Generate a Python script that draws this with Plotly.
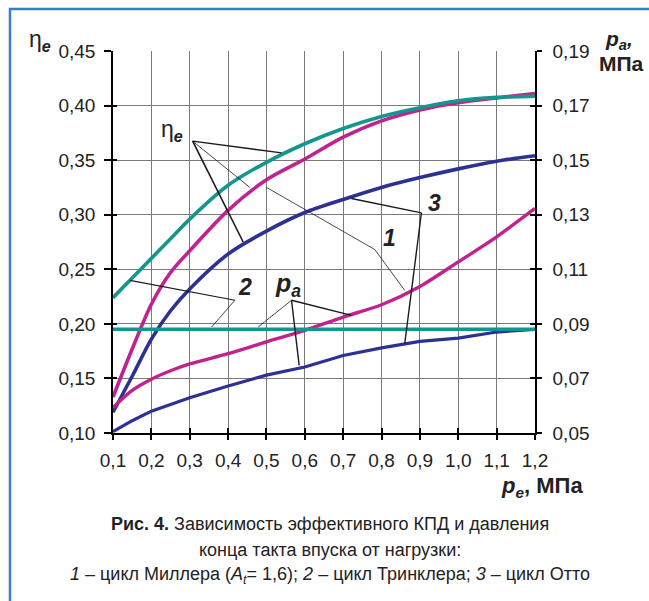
import plotly.graph_objects as go

# ---------------- data ----------------
pe = [0.1, 0.15, 0.2, 0.25, 0.3, 0.4, 0.5, 0.6, 0.7, 0.8, 0.9, 1.0, 1.1, 1.2]
x_ticks = [0.1, 0.2, 0.3, 0.4, 0.5, 0.6, 0.7, 0.8, 0.9, 1.0, 1.1, 1.2]
x_tick_labels = ["0,1", "0,2", "0,3", "0,4", "0,5", "0,6", "0,7", "0,8", "0,9", "1,0", "1,1", "1,2"]

# efficiency eta_e (left axis)
eta_miller = [0.133, 0.177, 0.218, 0.247, 0.267, 0.304, 0.332, 0.351, 0.371, 0.386, 0.396, 0.4026, 0.407, 0.411]   # 1
eta_trinkler = [0.224, 0.242, 0.260, 0.278, 0.296, 0.327, 0.348, 0.365, 0.379, 0.390, 0.398, 0.4044, 0.4075, 0.4087]  # 2
eta_otto = [0.119, 0.152, 0.186, 0.212, 0.232, 0.264, 0.285, 0.302, 0.314, 0.325, 0.334, 0.342, 0.349, 0.354]  # 3

# intake end pressure p_a, MPa (right axis)
pa_miller = [0.0593, 0.0656, 0.0697, 0.0728, 0.0753, 0.0791, 0.0834, 0.0876, 0.0925, 0.0970, 0.1037, 0.1127, 0.1219, 0.1323]
pa_trinkler = [0.088, 0.088, 0.088, 0.088, 0.088, 0.088, 0.088, 0.088, 0.088, 0.088, 0.088, 0.088, 0.088, 0.088]
pa_otto = [0.0505, 0.0545, 0.0580, 0.0605, 0.0629, 0.0672, 0.0712, 0.0742, 0.0784, 0.0812, 0.0836, 0.0848, 0.0870, 0.0880]

eta_ticks = [0.10, 0.15, 0.20, 0.25, 0.30, 0.35, 0.40, 0.45]
eta_tick_labels = ["0,10", "0,15", "0,20", "0,25", "0,30", "0,35", "0,40", "0,45"]
pa_ticks = [0.05, 0.07, 0.09, 0.11, 0.13, 0.15, 0.17, 0.19]
pa_tick_labels = ["0,05", "0,07", "0,09", "0,11", "0,13", "0,15", "0,17", "0,19"]

# ---------------- styles ----------------
TEAL = "#12968e"
MAGENTA = "#c0228e"
BLUE = "#2c3193"
FONT = "Liberation Sans, Arial, sans-serif"
GRID = "#7a7a7a"
TXT = "#222222"

fig = go.Figure()

def add(y, color, axis, shape="spline", width=3.6):
    fig.add_trace(go.Scatter(x=pe, y=y, mode="lines", yaxis=axis,
                             line=dict(color=color, width=width, shape=shape, smoothing=0.8),
                             hoverinfo="skip", showlegend=False))

add(pa_otto, BLUE, "y2", shape="linear", width=3.2)
add(pa_miller, MAGENTA, "y2", width=3.4)
add(pa_trinkler, TEAL, "y2", shape="linear", width=3.6)
add(eta_otto, BLUE, "y")
add(eta_miller, MAGENTA, "y")
add(eta_trinkler, TEAL, "y")

# invisible helper traces so the "inside" tick axes are drawn
fig.add_trace(go.Scatter(x=[None], y=[None], xaxis="x2", yaxis="y", showlegend=False, hoverinfo="skip"))
fig.add_trace(go.Scatter(x=[None], y=[None], xaxis="x", yaxis="y3", showlegend=False, hoverinfo="skip"))
fig.add_trace(go.Scatter(x=[None], y=[None], xaxis="x", yaxis="y4", showlegend=False, hoverinfo="skip"))

XR = [0.1, 1.2]
YR = [0.10, 0.45]
Y2R = [0.05, 0.19]
TICKFONT = dict(size=19, color=TXT)

fig.update_layout(
    width=649, height=601,
    margin=dict(l=113, r=114, t=51, b=168),
    paper_bgcolor="white", plot_bgcolor="white",
    font=dict(family=FONT, size=19, color=TXT),
    xaxis=dict(range=XR, tickvals=x_ticks, ticktext=x_tick_labels, showgrid=True,
               gridcolor=GRID, gridwidth=1, showline=True, linecolor="black", linewidth=1.5,
               ticks="outside", ticklen=5, tickwidth=1.5, tickcolor="black",
               ticklabelstandoff=4, zeroline=False, tickfont=TICKFONT),
    xaxis2=dict(range=XR, overlaying="x", side="bottom", tickvals=x_ticks, showticklabels=False,
                ticks="inside", ticklen=5, tickwidth=1.5, tickcolor="black", showgrid=False,
                zeroline=False, showline=False),
    yaxis=dict(range=YR, tickvals=eta_ticks, ticktext=eta_tick_labels, showgrid=True,
               gridcolor=GRID, gridwidth=1, showline=True, linecolor="black", linewidth=1.5,
               ticks="outside", ticklen=7, tickwidth=1.5, tickcolor="black",
               ticklabelstandoff=5, zeroline=False, tickfont=TICKFONT),
    yaxis2=dict(range=Y2R, overlaying="y", side="right", tickvals=pa_ticks, ticktext=pa_tick_labels,
                showgrid=False, showline=True, linecolor="black", linewidth=1.5,
                ticks="outside", ticklen=5, tickwidth=1.5, tickcolor="black",
                ticklabelstandoff=7, zeroline=False, tickfont=TICKFONT),
    yaxis3=dict(range=YR, overlaying="y", side="left", tickvals=eta_ticks, showticklabels=False,
                ticks="inside", ticklen=4, tickwidth=1.5, tickcolor="black", showgrid=False,
                zeroline=False, showline=False),
    yaxis4=dict(range=YR, overlaying="y", side="right", tickvals=eta_ticks, showticklabels=False,
                ticks="inside", ticklen=5, tickwidth=1.5, tickcolor="black", showgrid=False,
                zeroline=False, showline=False),
)

# leader lines (data coords, left axis)
leaders = [
    # eta_e
    ((0.3076, 0.3674), (0.5393, 0.3567), 1.4),
    ((0.3076, 0.3674), (0.4568, 0.3250), 0.8),
    ((0.3076, 0.3674), (0.4393, 0.2750), 1.6),
    # 1
    ((0.5003, 0.3250), (0.7823, 0.2681), 0.8),
    ((0.7823, 0.2681), (0.8604, 0.2307), 0.8),
    # 3
    ((0.9039, 0.3017), (0.7216, 0.3149), 1.4),
    ((0.9039, 0.3017), (0.8604, 0.1818), 1.4),
    # 2
    ((0.4177, 0.2216), (0.1443, 0.2399), 1.2),
    ((0.4177, 0.2216), (0.3570, 0.1971), 0.8),
    # p_a
    ((0.5654, 0.2216), (0.4784, 0.1971), 0.8),
    ((0.5654, 0.2216), (0.7216, 0.2078), 1.4),
    ((0.5654, 0.2216), (0.5852, 0.1619), 1.4),
]
for (x0, y0), (x1, y1), w in leaders:
    fig.add_shape(type="line", xref="x", yref="y", x0=x0, y0=y0, x1=x1, y1=y1,
                  line=dict(color="#1a1a1a", width=w))

# in-plot labels
labels = [
    (0.2536, 0.3775, "η<sub><b><i>e</i></b></sub>", 23),
    (0.8214, 0.2784, "<b><i>1</i></b>", 23),
    (0.9385, 0.3106, "<b><i>3</i></b>", 23),
    (0.4438, 0.2338, "<b><i>2</i></b>", 23),
    (0.5557, 0.2353, "<b><i>p<sub>a</sub></i></b>", 25),
]
for x, y, t, s in labels:
    fig.add_annotation(x=x, y=y, xref="x", yref="y", text=t, showarrow=False,
                       xanchor="center", yanchor="middle", font=dict(size=s, color=TXT))

def paper_text(x, y, text, size, xanchor="center"):
    fig.add_annotation(x=x, y=y, xref="paper", yref="paper", text=text, showarrow=False,
                       xanchor=xanchor, yanchor="middle", font=dict(size=size, color=TXT))

# axis titles
paper_text(-0.173, 1.028, "η<sub><b><i>e</i></b></sub>", 23)
paper_text(1.199, 1.028, "<b><i>p<sub>a</sub>,</i></b>", 21)
paper_text(1.204, 0.966, "<b>МПа</b>", 21)
paper_text(1.1185, -0.142, "<b><i>p<sub>e</sub></i>, МПа</b>", 22, xanchor="right")

caption = [
    "<b>Рис. 4.</b> Зависимость эффективного КПД и давления",
    "конца такта впуска от нагрузки:",
    "<i>1</i> – цикл Миллера (<i>A<sub>t</sub></i>= 1,6); <i>2</i> – цикл Тринклера; <i>3</i> – цикл Отто",
]
for i, line in enumerate(caption):
    paper_text(0.514, -0.239 - 0.0665 * i, line, 18)

# blue frame (left and top)
fig.add_shape(type="path", xref="paper", yref="paper",
              path="M -0.2441 -0.45 L -0.2441 1.110 L 1.30 1.110",
              line=dict(color="#3b7cc6", width=2.5))

fig.write_html("out.html")
